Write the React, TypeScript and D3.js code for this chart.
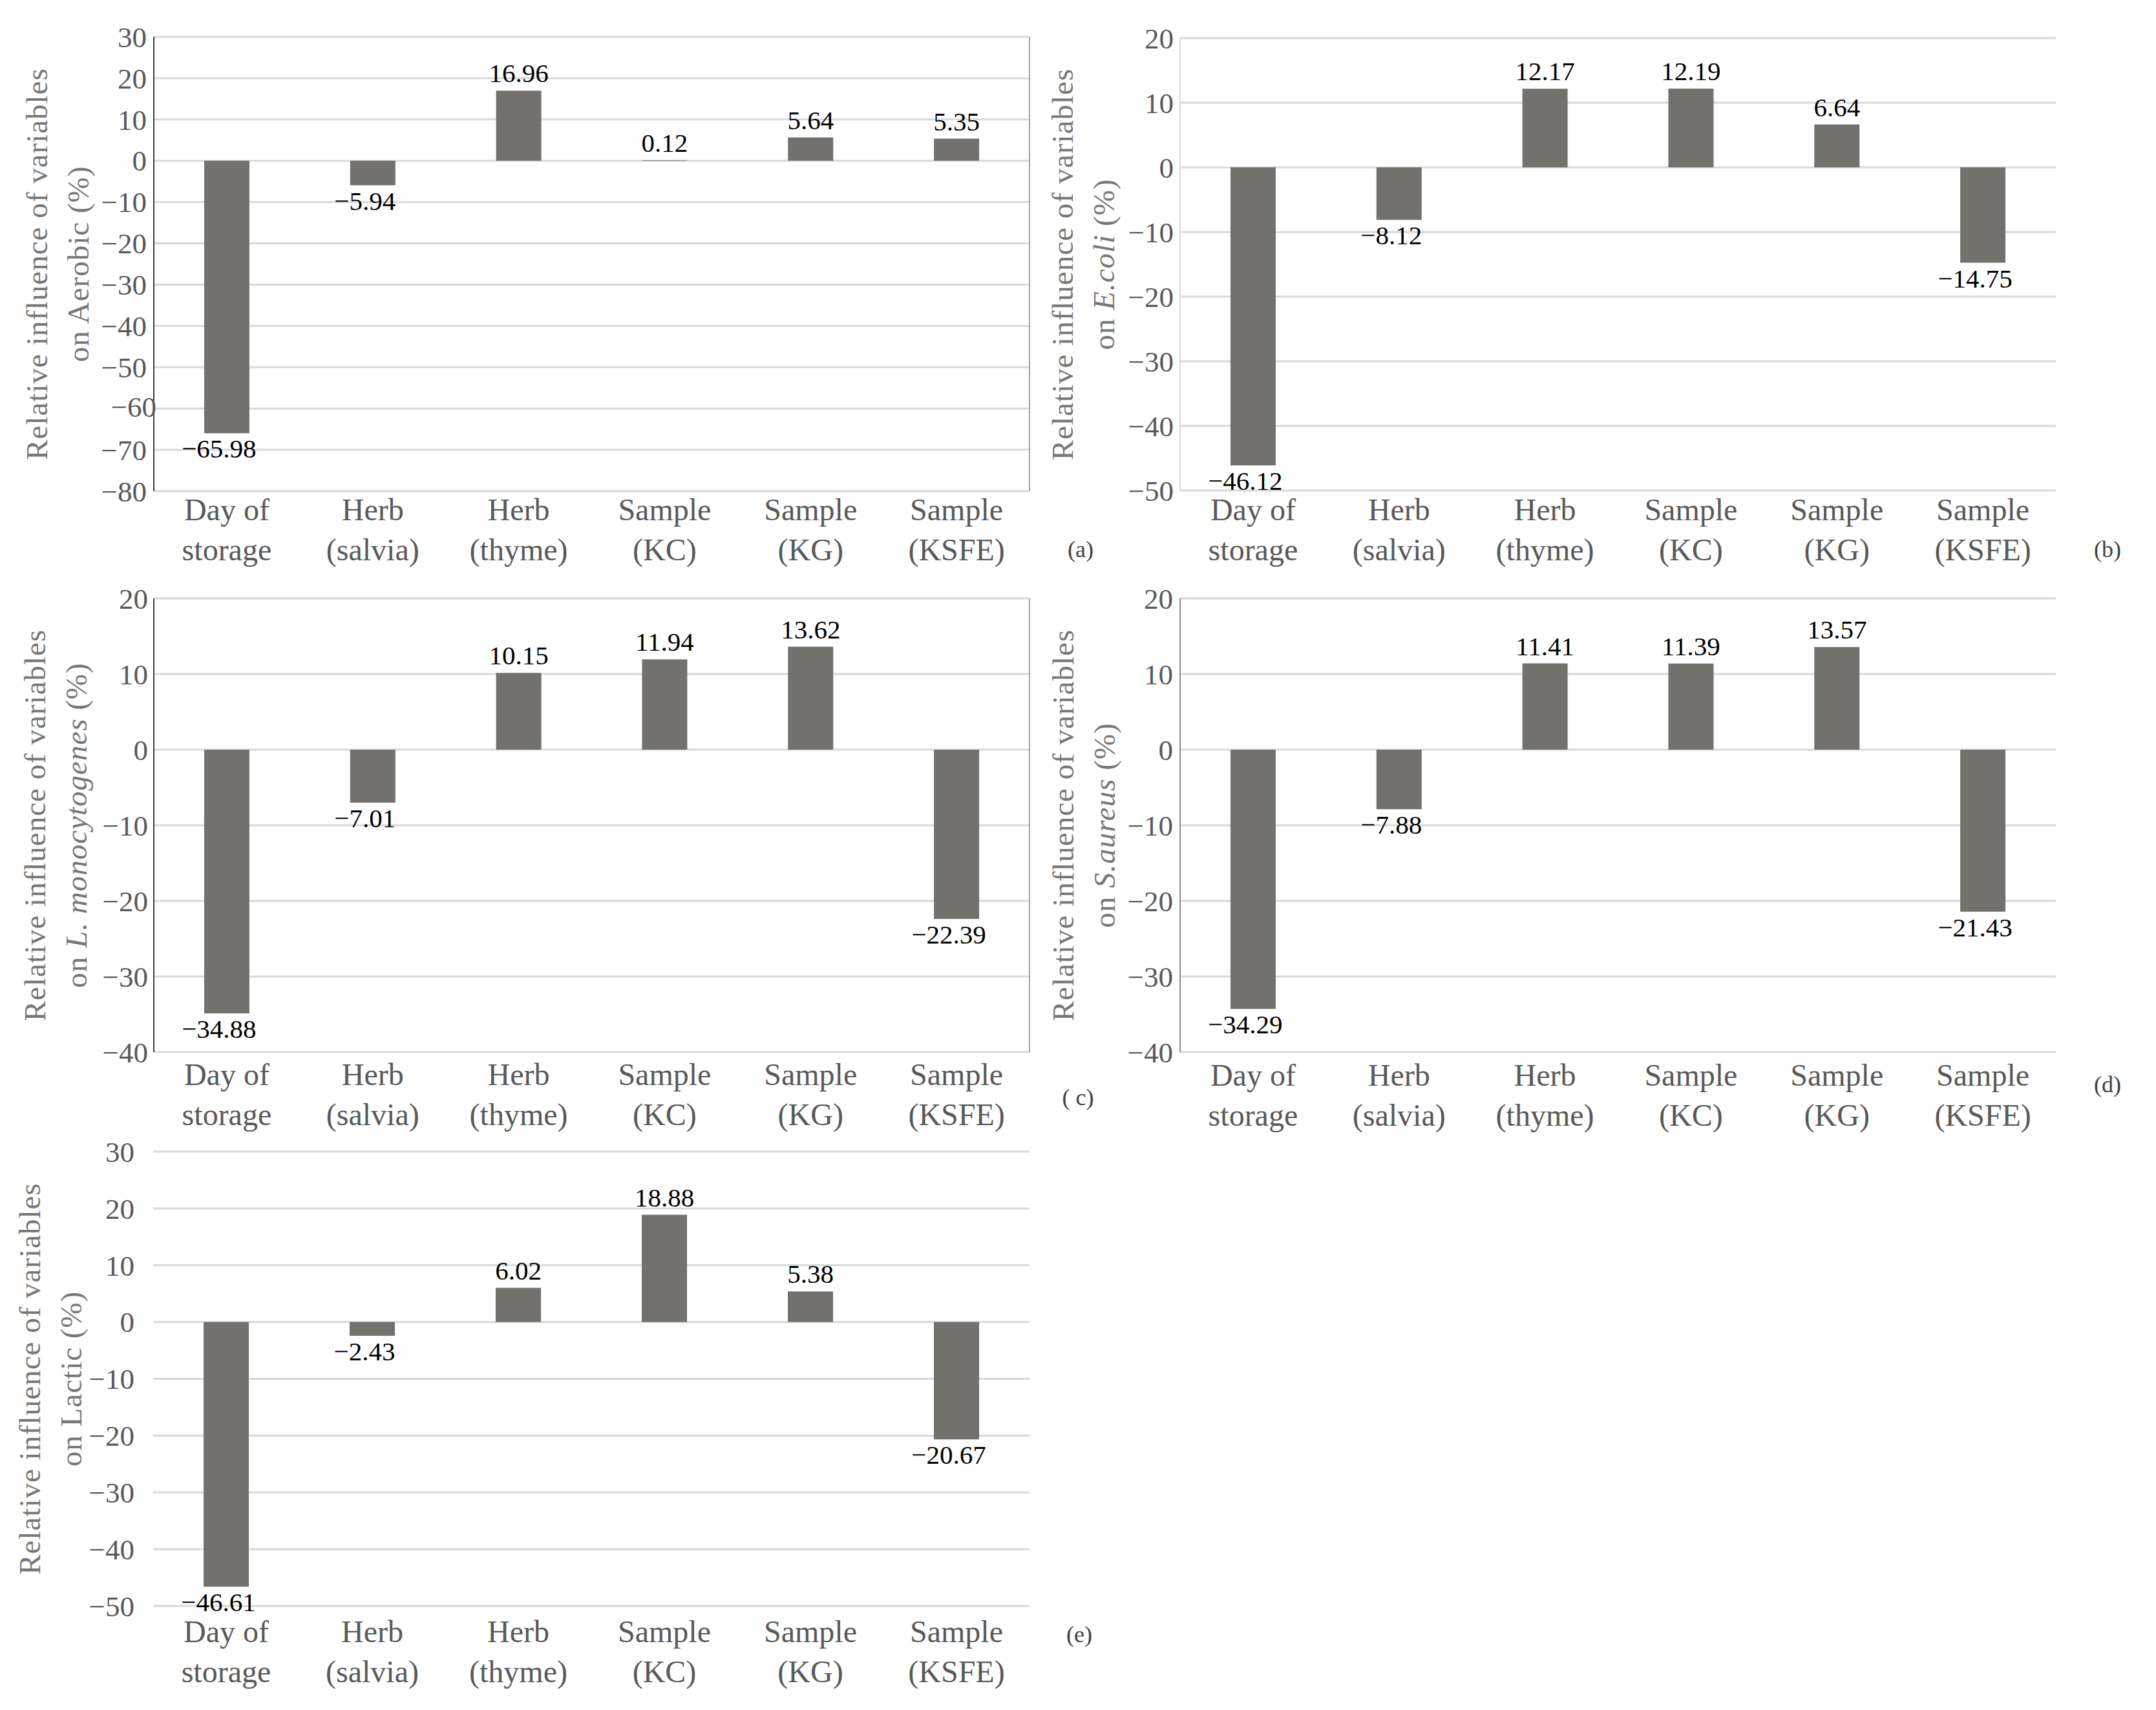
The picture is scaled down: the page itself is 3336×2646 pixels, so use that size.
import React from 'react';
import * as d3 from 'd3';

// category labels (two lines each)
const categories = [
	['Day of', 'storage'],
	['Herb', '(salvia)'],
	['Herb', '(thyme)'],
	['Sample', '(KC)'],
	['Sample', '(KG)'],
	['Sample', '(KSFE)'],
];

// relative influence values (%) per panel
const aerobicValues = [-65.98, -5.94, 16.96, 0.12, 5.64, 5.35];
const ecoliValues = [-46.12, -8.12, 12.17, 12.19, 6.64, -14.75];
const listeriaValues = [-34.88, -7.01, 10.15, 11.94, 13.62, -22.39];
const aureusValues = [-34.29, -7.88, 11.41, 11.39, 13.57, -21.43];
const lacticValues = [-46.61, -2.43, 6.02, 18.88, 5.38, -20.67];

// y tick labels per panel
const aerobicTicks = [30, 20, 10, 0, -10, -20, -30, -40, -50, -60, -70, -80];
const ecoliTicks = [20, 10, 0, -10, -20, -30, -40, -50];
const listeriaTicks = [20, 10, 0, -10, -20, -30, -40];
const aureusTicks = [20, 10, 0, -10, -20, -30, -40];
const lacticTicks = [30, 20, 10, 0, -10, -20, -30, -40, -50];

const W = 3336;
const H = 2646;
const SERIF = '"Liberation Serif", "Times New Roman", serif';
const BAR = '#73716e';
const GRID = '#d9d9d9';
const TICK = '#595959';
const TITLE = '#777777';

type Seg = { t: string; i?: boolean };

interface PanelSpec {
	letter: string;
	values: number[];
	ticks: number[];
	title2: Seg[];
	x0: number;
	x1: number;
	top: number;
	bottom: number;
	axisColor: string | null;
	rightBorder: boolean;
	tickGap: number;
	titleOffset: number;
	catGap: number;
	letterX: number;
	letterY: number;
	nudge?: { [k: number]: number };
}

const panels: PanelSpec[] = [
	{
		letter: '(a)',
		values: aerobicValues,
		ticks: aerobicTicks,
		title2: [{ t: 'on Aerobic (%)' }],
		x0: 238, x1: 1593, top: 57, bottom: 760,
		axisColor: '#3a3a3a', rightBorder: true, tickGap: 11,
		titleOffset: 165, catGap: 45, letterX: 1672, letterY: 862,
		nudge: { [-60]: 15 },
	},
	{
		letter: '(b)',
		values: ecoliValues,
		ticks: ecoliTicks,
		title2: [{ t: 'on ' }, { t: 'E.coli', i: true }, { t: ' (%)' }],
		x0: 1826, x1: 3181, top: 59, bottom: 759,
		axisColor: '#d9d9d9', rightBorder: false, tickGap: 10,
		titleOffset: 166, catGap: 46, letterX: 3261, letterY: 862,
	},
	{
		letter: '( c)',
		values: listeriaValues,
		ticks: listeriaTicks,
		title2: [{ t: 'on ' }, { t: 'L. monocytogenes', i: true }, { t: ' (%)' }],
		x0: 238, x1: 1593, top: 926, bottom: 1628,
		axisColor: '#3a3a3a', rightBorder: true, tickGap: 9,
		titleOffset: 168, catGap: 51, letterX: 1668, letterY: 1710,
	},
	{
		letter: '(d)',
		values: aureusValues,
		ticks: aureusTicks,
		title2: [{ t: 'on ' }, { t: 'S.aureus', i: true }, { t: ' (%)' }],
		x0: 1826, x1: 3181, top: 926, bottom: 1628,
		axisColor: '#8c8c8c', rightBorder: false, tickGap: 11,
		titleOffset: 165, catGap: 52, letterX: 3261, letterY: 1690,
	},
	{
		letter: '(e)',
		values: lacticValues,
		ticks: lacticTicks,
		title2: [{ t: 'on Lactic (%)' }],
		x0: 237, x1: 1593, top: 1782, bottom: 2485,
		axisColor: null, rightBorder: false, tickGap: 29,
		titleOffset: 175, catGap: 56, letterX: 1670, letterY: 2541,
	},
];

const fmt = (v: number) => (v < 0 ? '\u2212' : '') + Math.abs(v).toFixed(2);
const fmtTick = (v: number) => (v < 0 ? '\u2212' : '') + Math.abs(v);

function Panel({ p }: { p: PanelSpec }) {
	const x = d3
		.scaleBand<number>()
		.domain(d3.range(categories.length))
		.range([p.x0, p.x1])
		.paddingInner(0.69)
		.paddingOuter(0.345);
	const y = d3
		.scaleLinear()
		.domain([d3.min(p.ticks)!, d3.max(p.ticks)!])
		.range([p.bottom, p.top]);
	const midY = (p.top + p.bottom) / 2;
	const tx = p.x0 - p.titleOffset;

	return (
		<g>
			{/* gridlines */}
			{p.ticks.map((t) => (
				<line key={'g' + t} x1={p.x0} x2={p.x1} y1={y(t)} y2={y(t)} stroke={GRID} strokeWidth={3} />
			))}
			{p.axisColor && (
				<line x1={p.x0} x2={p.x0} y1={p.top} y2={p.bottom} stroke={p.axisColor} strokeWidth={2} />
			)}
			{p.rightBorder && (
				<line x1={p.x1} x2={p.x1} y1={p.top} y2={p.bottom} stroke="#a6a6a6" strokeWidth={2} />
			)}
			{/* tick labels */}
			{p.ticks.map((t) => (
				<text
					key={'t' + t}
					x={p.x0 - p.tickGap + ((p.nudge && p.nudge[t]) || 0)}
					y={y(t) - ((p.nudge && p.nudge[t]) ? 3 : 0)}
					dy="0.35em"
					textAnchor="end"
					fontFamily={SERIF}
					fontSize={45}
					fill={TICK}>
					{fmtTick(t)}
				</text>
			))}
			{/* bars */}
			{p.values.map((v, i) => (
				<rect
					key={'b' + i}
					x={x(i)}
					width={x.bandwidth()}
					y={Math.min(y(0), y(v))}
					height={Math.abs(y(v) - y(0))}
					fill={BAR}
				/>
			))}
			{/* value labels */}
			{p.values.map((v, i) => (
				<text
					key={'v' + i}
					x={x(i)! + x.bandwidth() / 2 + (v < 0 ? -12 : 0)}
					y={v < 0 ? y(v) + 38 : y(v) - 13}
					textAnchor="middle"
					fontFamily={SERIF}
					fontSize={41}
					fill="#000">
					{fmt(v)}
				</text>
			))}
			{/* category labels */}
			{categories.map((c, i) => (
				<text
					key={'c' + i}
					x={x(i)! + x.bandwidth() / 2}
					y={p.bottom + p.catGap}
					textAnchor="middle"
					fontFamily={SERIF}
					fontSize={48}
					fill={TICK}>
					<tspan x={x(i)! + x.bandwidth() / 2}>{c[0]}</tspan>
					<tspan x={x(i)! + x.bandwidth() / 2} dy={62}>
						{c[1]}
					</tspan>
				</text>
			))}
			{/* axis title */}
			<text
				transform={`translate(${tx},${midY}) rotate(-90)`}
				textAnchor="middle"
				fontFamily={SERIF}
				fontSize={47}
				letterSpacing={1}
				fill={TITLE}>
				Relative influence of variables
			</text>
			<text
				transform={`translate(${tx + 64},${midY}) rotate(-90)`}
				textAnchor="middle"
				fontFamily={SERIF}
				fontSize={47}
				letterSpacing={1}
				fill={TITLE}>
				{p.title2.map((s, k) => (
					<tspan key={k} fontStyle={s.i ? 'italic' : 'normal'}>
						{s.t}
					</tspan>
				))}
			</text>
			{/* panel letter */}
			<text x={p.letterX} y={p.letterY} textAnchor="middle" fontFamily={SERIF} fontSize={36} fill="#404040">
				{p.letter}
			</text>
		</g>
	);
}

export default function App() {
	return (
		<svg
			width={W}
			height={H}
			viewBox={`0 0 ${W} ${H}`}
			style={{ position: 'absolute', left: 0, top: 0, background: '#fff' }}>
			<rect width={W} height={H} fill="#fff" />
			{panels.map((p) => (
				<Panel key={p.letter} p={p} />
			))}
		</svg>
	);
}
